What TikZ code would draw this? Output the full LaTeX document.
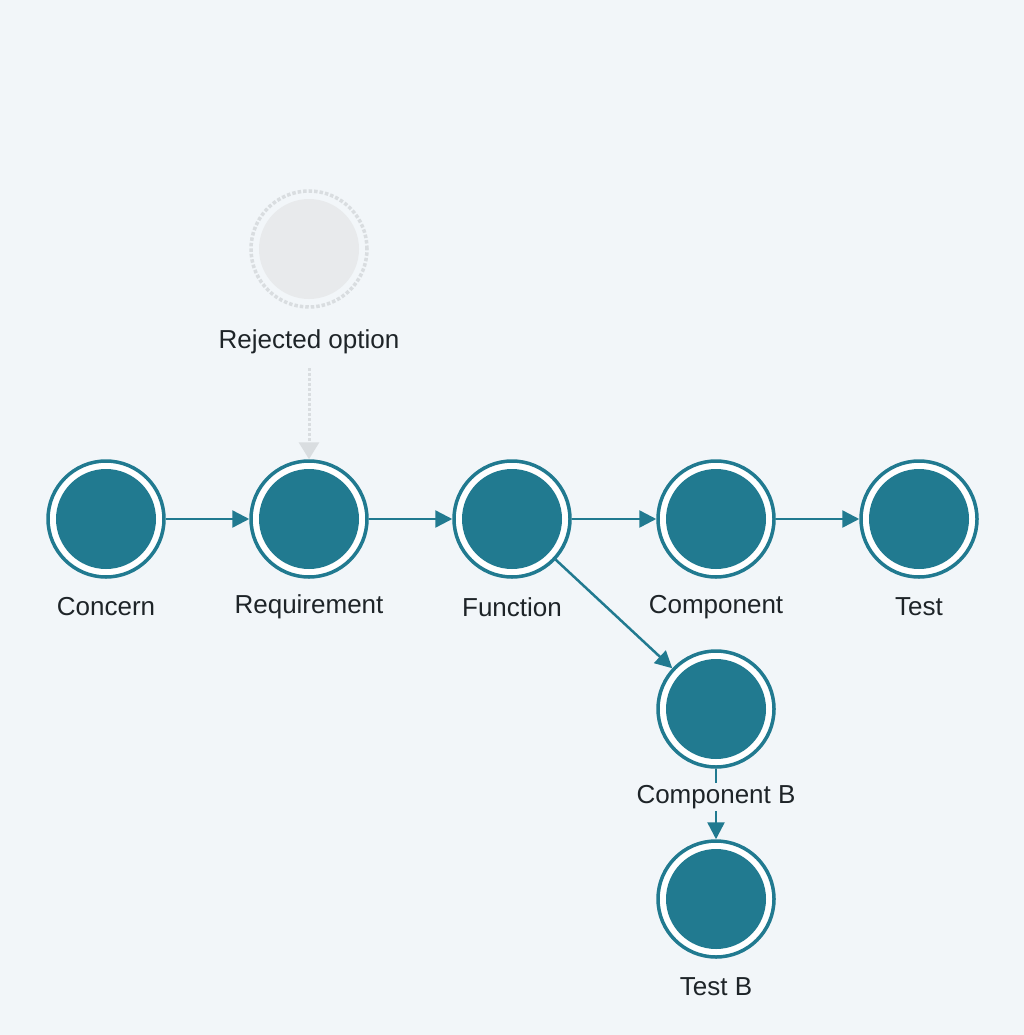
\documentclass[tikz,border=0pt]{standalone}
\usepackage{fontspec}
\setmainfont{Liberation Sans}
\usetikzlibrary{arrows.meta}
\definecolor{bg}{HTML}{F2F6F9}
\definecolor{teal}{HTML}{217A90}
\definecolor{ghost}{HTML}{E8EAEC}
\definecolor{ghostline}{HTML}{D9DDE0}
\definecolor{txt}{HTML}{1E2428}
\begin{document}
\begin{tikzpicture}[x=1pt,y=-1pt,
  st/.style={circle,draw=teal,line width=3.5pt,fill=white,minimum size=116pt,inner sep=0pt,
    path picture={\fill[teal] (path picture bounding box.center) circle (50pt);}},
  lab/.style={font=\fontsize{26}{30}\selectfont,text=txt,fill=bg,inner sep=2pt},
  con/.style={draw=teal,line width=2.5pt,-{Triangle[length=17pt,width=17pt]}}]
\fill[bg] (0,0) rectangle (1024,1035);
\useasboundingbox (0,0) rectangle (1024,1035);
\node[circle,draw=ghostline,line width=3.5pt,dotted,fill=bg,minimum size=116pt,inner sep=0pt] (rej) at (309,249) {};
\fill[ghost] (rej.center) circle (50pt);
\node[lab] (lrej) at (309,342) {Rejected option};
\node[st] (a) at (106,519) {};
\node[st] (b) at (309,519) {};
\node[st] (c) at (512,519) {};
\node[st] (d) at (716,519) {};
\node[st] (e) at (919,519) {};
\node[st] (f) at (716,709) {};
\node[st] (g) at (716,899) {};
\draw[draw=ghostline,line width=3pt,dotted,-{Triangle[length=17pt,width=20pt]}] (lrej.south) ++(0,12) coordinate (r0) (r0) -- (b.north);
\draw[con] (a) -- (b);
\draw[con] (b) -- (c);
\draw[con] (c) -- (d);
\draw[con] (d) -- (e);
\draw[con] (c) -- (f);
\draw[con] (f) -- (g);
\node[lab] at (106,607) {Concern};
\node[lab] at (309,607) {Requirement};
\node[lab] at (512,607) {Function};
\node[lab] at (716,607) {Component};
\node[lab] at (919,607) {Test};
\node[lab] at (716,797) {Component B};
\node[lab] at (716,987) {Test B};
\end{tikzpicture}
\end{document}
